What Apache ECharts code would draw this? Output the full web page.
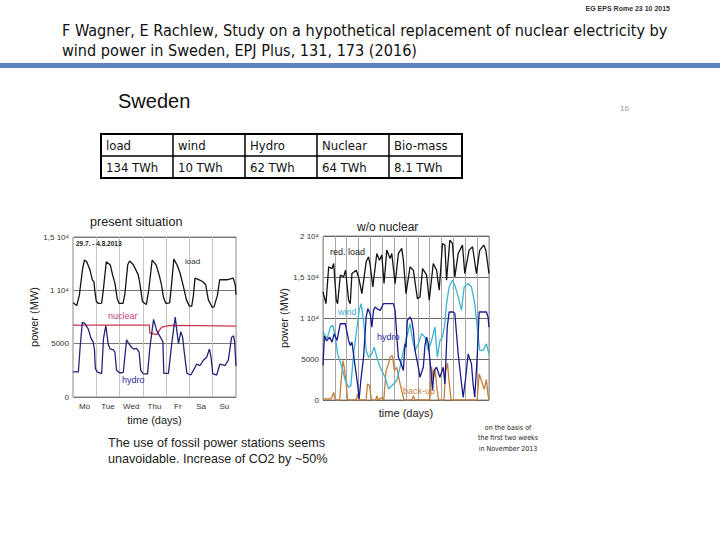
<!DOCTYPE html>
<html><head><meta charset="utf-8">
<script src="https://cdn.jsdelivr.net/npm/echarts@6/dist/echarts.min.js"></script>
<style>html,body{margin:0;padding:0;background:#fff}#c{width:720px;height:540px}</style>
</head><body><div id="c"></div><script>
const days = ['Mo','Tue','Wed','Thu','Fr','Sa','Su'];
const tableHead = ['load','wind','Hydro','Nuclear','Bio-mass'];
const tableVals = ['134 TWh','10 TWh','62 TWh','64 TWh','8.1 TWh'];
const yLabelText = {0:'0',5000:'5000',10000:'1 10\u2074',15000:'1,5 10\u2074',20000:'2 10\u2074'};

// present situation (29.7.-4.8.2013), [day, MW]
const loadPresent = [[0,8830],[0.16,8580],[0.27,9500],[0.41,12000],[0.49,12840],[0.59,12680],[0.73,11900],[0.83,11000],[0.9,10800],[0.94,9900],[1.0,8980],
 [1.09,8770],[1.23,8800],[1.3,10000],[1.43,12680],[1.6,12380],[1.7,11450],[1.8,10680],[1.9,9200],[1.98,8770],
 [2.15,8770],[2.23,9700],[2.35,12400],[2.43,12750],[2.6,12380],[2.8,11450],[2.87,10680],[2.98,8980],[3.08,8770],
 [3.15,8680],[3.25,10000],[3.4,12840],[3.57,12380],[3.7,11450],[3.8,10520],[3.89,9300],[3.99,8770],
 [4.15,8830],[4.23,10500],[4.33,12930],[4.47,12380],[4.6,11600],[4.74,10370],[4.87,9130],[5.0,8520],
 [5.1,8520],[5.17,9500],[5.24,11140],[5.4,11000],[5.56,10830],[5.7,10520],[5.81,9130],[5.97,8430],
 [6.05,8430],[6.2,9500],[6.3,10990],[6.6,10990],[6.88,11140],[6.97,10500],[7.0,9600]];
const nuclearPresent = [[0,6730],[3.28,6730],[3.3,6000],[3.6,5850],[3.72,6300],[3.82,6550],[4.17,6720],[5.5,6700],[7,6640]];
const hydroPresent = [[0,2350],[0.23,2350],[0.3,4500],[0.4,7000],[0.5,6900],[0.66,6360],[0.76,5590],[0.87,5120],[0.92,4500],[0.96,2670],[1.04,2350],
 [1.23,2200],[1.31,5500],[1.41,6700],[1.51,4970],[1.59,4510],[1.73,4420],[1.8,4200],[1.87,2500],[2.01,2250],
 [2.16,2300],[2.3,5370],[2.37,5100],[2.51,4660],[2.6,4500],[2.73,4560],[2.84,4200],[2.91,2500],[3.01,2200],
 [3.2,2140],[3.3,4600],[3.46,7280],[3.6,6200],[3.74,5660],[3.86,5200],[3.9,2220],[4.1,2220],
 [4.24,5000],[4.39,7500],[4.46,6200],[4.53,5000],[4.63,6110],[4.71,5590],[4.77,4350],[4.89,2220],[5.06,2060],
 [5.17,2500],[5.31,3090],[5.46,2950],[5.6,3450],[5.74,3730],[5.86,4500],[5.93,3700],[6.0,2200],
 [6.17,2060],[6.31,3090],[6.53,2950],[6.67,3450],[6.81,5590],[6.89,5740],[6.94,5200],[7.0,2900]];

// w/o nuclear (first two weeks of November 2013), [day, MW]
const redLoad = [[0,13180],[0.25,11750],[0.48,16240],[0.76,16030],[0.9,16650],[1.12,12160],[1.23,11750],[1.46,15220],[1.74,15010],[1.9,15830],
 [2.16,12160],[2.3,11750],[2.44,15420],[2.8,15830],[3.0,15010],[3.28,12970],[3.64,16850],[3.84,17460],[3.98,16440],[4.2,13790],
 [4.54,17870],[4.76,17050],[4.96,17670],[5.15,14200],[5.38,18280],[5.66,17260],[5.8,17870],[6.08,14200],[6.36,17870],[6.64,18480],
 [6.78,17050],[7.0,12970],[7.34,16240],[7.62,15830],[7.96,12360],[8.18,12570],[8.4,16030],[8.74,15220],[8.96,12160],[9.3,16650],
 [9.58,15830],[9.8,13380],[10.08,19090],[10.28,18890],[10.42,14610],[10.7,19500],[10.92,19090],[11.12,15010],[11.4,17870],[11.76,18890],
 [11.96,15420],[12.32,18280],[12.61,18690],[12.94,15420],[13.22,18280],[13.56,18890],[13.73,18280],[14.0,15420]];
const windNoNuc = [[0,8300],[0.34,7470],[0.62,8890],[0.84,9100],[1.04,7670],[1.23,5630],[1.6,4000],[1.88,2370],[2.16,1550],[2.35,1750],
 [2.58,5630],[2.8,8080],[3.05,10930],[3.22,11750],[3.42,9710],[3.64,6040],[3.84,5220],[4.12,5630],[4.31,6450],[4.54,5220],
 [4.82,4000],[5.24,2770],[5.52,1350],[5.94,1960],[6.22,2370],[6.5,4000],[6.78,6040],[7.06,7670],[7.34,9300],[7.56,7260],
 [7.76,6040],[8.04,6850],[8.32,8080],[8.6,7670],[8.88,6040],[9.16,7260],[9.44,8890],[9.64,5220],[9.86,7260],[10.08,7670],
 [10.28,9300],[10.42,11750],[10.64,13790],[10.92,14610],[11.12,13990],[11.4,12570],[11.68,10930],[11.9,13790],[12.24,14200],[12.52,13790],
 [12.8,11750],[13.0,8890],[13.22,6040],[13.5,6040],[13.78,6850],[14.0,5630]];
const hydroNoNuc = [[0,4200],[0.12,7800],[0.3,7200],[0.56,7670],[0.76,7060],[0.95,8080],[1.18,7260],[1.46,9300],[1.88,9300],[2.16,7260],
 [2.3,6650],[2.44,7060],[2.72,4000],[2.91,1960],[3.05,120],[3.19,2370],[3.42,5220],[3.64,10120],[3.78,11140],[3.98,10530],
 [4.12,8890],[4.26,10930],[4.4,11340],[4.54,11140],[4.82,10930],[4.96,11340],[5.1,11750],[5.94,11750],[6.08,10930],[6.27,6850],
 [6.36,5220],[6.55,4610],[6.78,3590],[6.92,6850],[7.0,6450],[7.11,9710],[7.34,10120],[7.48,9710],[7.62,8490],[7.76,6040],
 [8.04,4000],[8.18,2770],[8.46,4000],[8.6,6650],[8.74,7670],[8.88,6850],[9.08,4000],[9.24,1140],[9.36,3590],[9.58,4000],
 [9.86,2770],[10.14,4000],[10.28,1960],[10.48,8890],[10.64,10730],[10.98,10730],[11.12,10530],[11.26,8080],[11.4,5630],[11.62,2770],
 [11.82,330],[12.04,2770],[12.24,5630],[12.52,4410],[12.66,1960],[12.8,330],[13.0,5220],[13.17,10730],[13.78,10730],[13.92,10120],[14.0,8890]];
const backupNoNuc = [[0,120],[0.62,120],[0.76,330],[0.9,940],[1.04,0],[1.4,0],[1.51,1960],[1.68,4810],[1.79,4000],[1.96,1960],[2.07,0],
 [2.8,0],[2.91,730],[3.03,0],[3.64,0],[3.75,1960],[3.92,1750],[4.09,0],[4.45,0],[4.54,530],[4.65,0],[4.96,330],[5.13,0],
 [5.32,3590],[5.52,4410],[5.66,5220],[5.85,5430],[6.02,3590],[6.22,4000],[6.44,2370],[6.64,1140],[6.83,0],[7.5,0],[7.62,530],[7.76,0],
 [9.0,0],[9.15,4000],[9.3,2500],[9.45,3800],[9.6,1500],[9.75,0],[10.2,0],[10.35,3500],[10.5,4500],[10.65,2000],[10.8,0],
 [13.0,0],[13.17,3180],[13.35,2400],[13.6,1300],[13.78,2500],[13.9,800],[14.0,0]];

const chart = echarts.init(document.getElementById('c'), null, {renderer:'svg'});
const SANS = '"Liberation Sans", Arial, sans-serif';
const NARROW = '"Liberation Sans Narrow", "DejaVu Sans Condensed", sans-serif';

function txt(x, y, s, font, fill, align) {
  return {type:'text', x:x, y:y, style:{text:s, font:font, fill:fill||'#000', textAlign:align||'left', textVerticalAlign:'middle'}, z:10};
}
const graphics = [];
graphics.push(txt(670, 8, 'EG EPS Rome 23 10 2015', 'bold 7px '+SANS, '#333', 'right'));
graphics.push(txt(62, 30, 'F Wagner, E Rachlew, Study on a hypothetical replacement of nuclear electricity by', '16.1px '+NARROW, '#111'));
graphics.push(txt(62, 50, 'wind power in Sweden, EPJ Plus, 131, 173 (2016)', '16.1px '+NARROW, '#111'));
graphics.push({type:'rect', shape:{x:0, y:63, width:720, height:5}, style:{fill:'#5b84bd'}});
graphics.push(txt(118, 101, 'Sweden', '20px '+SANS, '#111'));
graphics.push(txt(620, 108, '16', '8px '+SANS, '#999'));
// table
const colX = [101,173,245,317,389,462];
graphics.push({type:'rect', shape:{x:101, y:134, width:361, height:44}, style:{fill:'none', stroke:'#000', lineWidth:2}});
graphics.push({type:'line', shape:{x1:101, y1:156, x2:462, y2:156}, style:{stroke:'#000', lineWidth:1.5}});
for (let i = 1; i < 5; i++) graphics.push({type:'line', shape:{x1:colX[i], y1:134, x2:colX[i], y2:178}, style:{stroke:'#000', lineWidth:1.5}});
tableHead.forEach((h,i)=>graphics.push(txt(colX[i]+5, 145, h, '13px '+NARROW, '#111')));
tableVals.forEach((h,i)=>graphics.push(txt(colX[i]+5, 167, h, '13px '+NARROW, '#111')));
// chart titles
graphics.push(txt(90, 222, 'present situation', '12.6px '+SANS, '#222'));
graphics.push(txt(357, 227, 'w/o nuclear', '12px '+SANS, '#222'));
graphics.push(txt(76, 243, '29.7. - 4.8.2013', 'bold 6.5px '+SANS, '#222'));
graphics.push(txt(185, 261, 'load', '8px '+SANS, '#333'));
graphics.push(txt(108, 316, 'nuclear', '9px '+SANS, '#c2407a'));
graphics.push(txt(122, 380, 'hydro', '9px '+SANS, '#2d2d9a'));
graphics.push(txt(330, 252, 'red. load', '9px '+SANS, '#222'));
graphics.push(txt(338, 312, 'wind', '9px '+SANS, '#3cb0d0'));
graphics.push(txt(377, 337, 'hydro', '9px '+SANS, '#2a2a98'));
graphics.push(txt(403, 391, 'back-up', '9px '+SANS, '#c8803c'));
// bottom notes
graphics.push(txt(108, 443, 'The use of fossil power stations seems', '12.6px '+SANS, '#222'));
graphics.push(txt(108, 459, 'unavoidable. Increase of CO2 by ~50%', '12.6px '+SANS, '#222'));
graphics.push(txt(508, 428, 'on the basis of', '7px '+NARROW, '#222', 'center'));
graphics.push(txt(508, 438, 'the first two weeks', '7px '+NARROW, '#222', 'center'));
graphics.push(txt(508, 449, 'in November 2013', '7px '+NARROW, '#222', 'center'));

const yLab = {fontSize:8, color:'#333', margin:4, fontFamily:SANS, formatter:v=>yLabelText[v]};
const axisName = {fontSize:11, color:'#222', fontFamily:SANS};
function line(name, data, color, xi, yi) {
  return {name:name, type:'line', data:data, xAxisIndex:xi, yAxisIndex:yi, showSymbol:false, symbol:'none',
    lineStyle:{color:color, width:1.3}, itemStyle:{color:color}, animation:false};
}
chart.setOption({
  animation:false,
  grid:[{left:73, top:237, width:163, height:160, show:true, borderColor:'#888', borderWidth:1},
        {left:323, top:236, width:166, height:164, show:true, borderColor:'#888', borderWidth:1}],
  xAxis:[
    {type:'value', gridIndex:0, min:0, max:7, interval:1, position:'bottom', axisLabel:{show:false}, axisTick:{show:false}, axisLine:{show:false}, splitLine:{show:true, lineStyle:{color:'#c4c4c4', width:1}}},
    {type:'category', gridIndex:0, data:days, boundaryGap:true, position:'bottom', axisTick:{show:false}, axisLine:{show:false}, splitLine:{show:false},
      axisLabel:{fontSize:8, color:'#333', margin:5, fontFamily:SANS}, name:'time (days)', nameLocation:'middle', nameGap:17, nameTextStyle:axisName},
    {type:'value', gridIndex:1, min:0, max:14, interval:1, position:'bottom', axisLabel:{show:false}, axisTick:{show:false}, axisLine:{show:false}, splitLine:{show:true, lineStyle:{color:'#a8a8a8', width:1}},
      name:'time (days)', nameLocation:'middle', nameGap:7, nameTextStyle:axisName}
  ],
  yAxis:[
    {type:'value', gridIndex:0, min:0, max:15000, interval:5000, axisLine:{show:false}, axisTick:{show:false}, axisLabel:yLab, splitLine:{show:true, lineStyle:{color:'#777', width:1}},
      name:'power (MW)', nameLocation:'middle', nameGap:28, nameRotate:90, nameTextStyle:axisName},
    {type:'value', gridIndex:1, min:0, max:20000, interval:5000, axisLine:{show:false}, axisTick:{show:false}, axisLabel:yLab, splitLine:{show:true, lineStyle:{color:'#6a6a6a', width:1}},
      name:'power (MW)', nameLocation:'middle', nameGap:29, nameRotate:90, nameTextStyle:axisName}
  ],
  series:[
    line('load', loadPresent, '#141414', 0, 0),
    line('nuclear', nuclearPresent, '#c8384f', 0, 0),
    line('hydro', hydroPresent, '#25257a', 0, 0),
    line('back-up', backupNoNuc, '#c47f3a', 2, 1),
    line('wind', windNoNuc, '#3cb4d2', 2, 1),
    line('hydro (w/o nuclear)', hydroNoNuc, '#1c1c8c', 2, 1),
    line('red. load', redLoad, '#141414', 2, 1)
  ],
  graphic:graphics
});
</script></body></html>
